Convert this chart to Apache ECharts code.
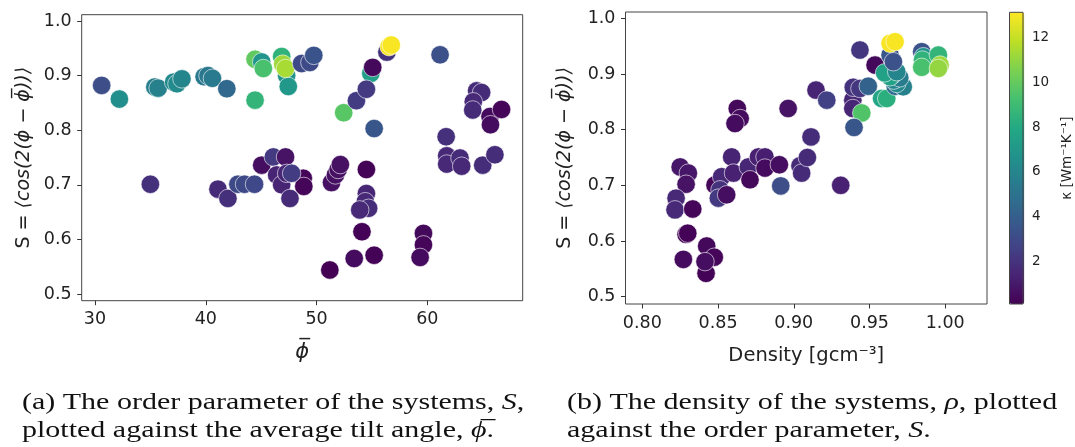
<!DOCTYPE html>
<html>
<head>
<meta charset="utf-8">
<script src="https://cdn.jsdelivr.net/npm/echarts@6/dist/echarts.min.js"></script>
<style>
html,body{margin:0;padding:0;background:#fff;}
#chart{width:1075px;height:447px;}
</style>
</head>
<body>
<div id="chart"></div>
<script>
// ---- Panel (a): average tilt angle vs order parameter S, colour = kappa ----
const phiA = [30.6,32.2,35.4,35.7,37.1,37.4,37.85,39.85,40.2,40.6,41.9,44.45,45.05,45.2,44.45,46.85,47.3,47.45,46.95,47.2,
  48.65,49.4,49.75,54.9,55.07,56.35,56.55,56.75,52.45,53.6,54.5,55.2,61.15,64.45,64.9,64.15,64.1,65.66,65.7,66.7,
  61.7,61.75,61.75,62.95,63.1,65.0,66.1,53.4,55.2,51.2,54.1,59.65,59.65,59.35,54.5,54.5,54.4,54.7,53.9,51.35,
  51.7,51.95,52.15,48.8,48.85,35.0,41.1,42.0,42.9,43.5,44.4,45.05,46.1,47.2,46.4,46.85,47.3,47.75,47.6];
const sA = [0.882,0.857,0.879,0.877,0.888,0.885,0.894,0.898,0.900,0.895,0.876,0.930,0.925,0.913,0.855,0.935,0.900,0.880,0.921,0.913,
  0.922,0.924,0.937,0.904,0.915,0.943,0.953,0.956,0.832,0.854,0.875,0.803,0.938,0.872,0.869,0.852,0.837,0.825,0.810,0.838,
  0.788,0.753,0.738,0.749,0.734,0.736,0.755,0.565,0.571,0.544,0.614,0.611,0.590,0.567,0.728,0.684,0.669,0.657,0.654,0.704,
  0.718,0.728,0.737,0.712,0.697,0.701,0.692,0.675,0.701,0.701,0.701,0.736,0.751,0.751,0.718,0.700,0.721,0.721,0.675];
const kappaA = [3.2,6.5,5.7,5.8,6.2,6.3,6.0,5.3,5.3,5.4,4.5,9.9,6.8,9.3,8.6,8.5,6.7,7.0,11.2,11.4,
  3.0,3.0,3.5,7.4,0.4,2.0,13.0,13.0,9.7,2.4,2.3,3.6,3.3,1.7,1.7,1.6,1.7,0.5,0.5,0.3,
  1.9,1.6,1.6,1.7,1.6,1.8,1.8,0.5,0.2,0.1,0.2,0.4,0.3,0.5,0.2,1.5,1.6,1.8,1.6,0.7,
  0.7,0.7,0.7,0.3,0.3,1.9,1.7,1.9,3.0,3.0,2.9,0.6,2.3,0.8,1.4,1.4,1.5,2.4,1.7];

// ---- Panel (b): density vs order parameter S, colour = kappa ----
const rhoB = [0.8289,0.830,0.8425,0.8475,0.8271,0.8421,0.8414,
  0.825,0.8304,0.8289,0.8223,0.8216,0.8333,0.848,0.8524,0.8513,0.8502,0.8557,0.859,0.8602,0.870,0.8711,0.8767,0.881,0.881,
  0.8905,0.8914,0.9041,0.9052,0.909,0.9114,0.931,
  0.8627,0.8646,0.8612,0.8963,0.9147,0.9218,0.939,0.939,0.9393,0.9437,0.9492,0.9449,0.9398,0.9437,0.9537,
  0.958,0.9614,0.967,0.971,0.9723,0.968,0.966,0.970,0.965,0.9636,0.960,0.968,0.9636,0.9658,0.9636,0.9669,
  0.9845,0.9856,0.985,0.9845,0.9955,0.9966,0.9955];
const sB = [0.612,0.614,0.591,0.571,0.567,0.542,0.563,
  0.733,0.722,0.702,0.677,0.656,0.6575,0.7006,0.7155,0.692,0.677,0.683,0.751,0.722,0.733,0.710,0.751,0.751,0.731,
  0.737,0.699,0.735,0.722,0.750,0.787,0.700,
  0.838,0.820,0.811,0.838,0.871,0.853,0.853,0.838,0.876,0.874,0.878,0.830,0.804,0.943,0.916,
  0.856,0.856,0.878,0.880,0.877,0.883,0.889,0.893,0.898,0.895,0.902,0.904,0.934,0.922,0.955,0.958,
  0.940,0.931,0.925,0.912,0.934,0.916,0.910];
const kappaB = [0.2,0.2,0.4,0.3,0.5,0.2,0.6,
  0.9,0.9,0.8,1.6,1.6,0.3,0.3,1.6,2.0,2.3,0.6,1.4,1.3,1.5,0.4,1.3,1.2,0.5,
  0.6,3.2,1.7,1.7,1.7,1.8,1.3,
  0.4,0.5,0.5,0.8,1.4,2.6,1.5,1.5,2.0,2.2,4.2,9.5,3.6,2.2,0.4,
  7.8,8.3,4.6,6.2,5.8,6.2,6.0,5.5,5.3,7.6,7.5,6.0,3.6,3.4,13.0,13.0,
  3.4,6.8,8.5,9.3,8.6,11.2,11.0];

// ---- ticks ----
const phiTicks = [30,40,50,60];
const sTicks = [0.5,0.6,0.7,0.8,0.9,1.0];
const rhoTicks = [0.80,0.85,0.90,0.95,1.00];
const kappaTicks = [2,4,6,8,10,12];

const viridis = ['#440154','#482475','#414487','#355f8d','#2a788e','#21918c','#22a884','#44bf70','#7ad151','#bddf26','#fde725'];
const KMIN = 0.115, KMAX = 13.11;

const FONT = 'DejaVu Sans';
const tickFont = {fontFamily: FONT, fontSize: 17.5, color: '#222'};
const frame = '#444';

function valueAxis(gridIndex, min, max, ticks, dec, extra) {
  return Object.assign({
    type: 'value', gridIndex, min, max,
    axisLine: {show: false},
    axisTick: {show: true, customValues: ticks, length: 4.5, lineStyle: {color: '#333', width: 1}},
    axisLabel: Object.assign({customValues: ticks, margin: 10, formatter: v => v.toFixed(dec)}, tickFont),
    splitLine: {show: false}
  }, extra || {});
}

const chart = echarts.init(document.getElementById('chart'), null, {renderer: 'canvas'});
const italic = {fontStyle: 'italic', fontFamily: FONT, fontSize: 19, color: '#222'};

const CAP = {fontFamily: 'Liberation Serif', fontSize: 24, fill: '#111', verticalAlign: 'middle'};
const capRich = {i: {fontStyle: 'italic', fontFamily: 'Liberation Serif', fontSize: 24, fill: '#111'}};
function caption(x, y, text) {
  return {type: 'text', x, y, scaleX: 1.25, style: Object.assign({text, rich: capRich}, CAP)};
}

const option = {
  animation: false,
  backgroundColor: '#fff',
  grid: [
    {left: 81.7, top: 14.7, width: 441, height: 286, show: true, borderColor: frame, borderWidth: 1, backgroundColor: 'transparent'},
    {left: 625.5, top: 12, width: 361.5, height: 292, show: true, borderColor: frame, borderWidth: 1, backgroundColor: 'transparent'},
    {left: 1009.5, top: 12.3, width: 14.8, height: 291.7, show: true, borderColor: frame, borderWidth: 1, backgroundColor: 'transparent', z: 10}
  ],
  xAxis: [
    valueAxis(0, 28.8, 68.61, phiTicks, 0, {
      name: '{m|ϕ\u0305}', nameLocation: 'middle', nameGap: 41,
      nameTextStyle: {rich: {m: {fontStyle: 'italic', fontFamily: FONT, fontSize: 21, color: '#222'}}}
    }),
    valueAxis(1, 0.7889, 1.0276, rhoTicks, 2, {
      name: 'Density [gcm⁻³]', nameLocation: 'middle', nameGap: 42,
      nameTextStyle: {fontFamily: FONT, fontSize: 19.5, color: '#222'}
    }),
    {type: 'value', gridIndex: 2, min: 0, max: 1, show: false}
  ],
  yAxis: [
    valueAxis(0, 0.4877, 1.0115, sTicks, 1, {
      name: 'S = {m|⟨cos(2(ϕ − ϕ\u0305))⟩}', nameLocation: 'middle', nameGap: 48,
      nameTextStyle: {fontFamily: FONT, fontSize: 19, color: '#222', rich: {m: italic}}
    }),
    valueAxis(1, 0.4869, 1.0113, sTicks, 1, {
      name: 'S = {m|⟨cos(2(ϕ − ϕ\u0305))⟩}', nameLocation: 'middle', nameGap: 51,
      nameTextStyle: {fontFamily: FONT, fontSize: 19, color: '#222', rich: {m: italic}}
    }),
    {
      type: 'value', gridIndex: 2, min: KMIN, max: KMAX, position: 'right',
      axisLine: {show: false},
      axisTick: {show: true, customValues: kappaTicks, length: 4, lineStyle: {color: '#333'}},
      axisLabel: {customValues: kappaTicks, margin: 9, fontFamily: FONT, fontSize: 13.5, color: '#222'},
      splitLine: {show: false},
      name: 'κ [Wm⁻¹K⁻¹]', nameLocation: 'middle', nameGap: 37, nameRotate: 90,
      nameTextStyle: {fontFamily: FONT, fontSize: 13.5, color: '#222'}
    }
  ],
  visualMap: {
    type: 'continuous', min: KMIN, max: KMAX, dimension: 2, seriesIndex: [0, 1],
    inRange: {color: viridis},
    left: 1009.5, top: 12.3, itemWidth: 14.8, itemHeight: 291.7, padding: 0,
    calculable: false, showLabel: false, text: null, hoverLink: false, realtime: false
  },
  series: [
    {
      type: 'scatter', xAxisIndex: 0, yAxisIndex: 0, symbolSize: 18.5,
      itemStyle: {borderColor: 'rgba(255,255,255,0.85)', borderWidth: 0.7, opacity: 1},
      emphasis: {disabled: true},
      data: phiA.map((p, i) => [p, sA[i], kappaA[i]])
    },
    {
      type: 'scatter', xAxisIndex: 1, yAxisIndex: 1, symbolSize: 18.5,
      itemStyle: {borderColor: 'rgba(255,255,255,0.85)', borderWidth: 0.7, opacity: 1},
      emphasis: {disabled: true},
      data: rhoB.map((r, i) => [r, sB[i], kappaB[i]])
    }
  ],
  graphic: [
    caption(22, 403, '(a) The order parameter of the systems, {i|S},'),
    caption(22, 431, 'plotted against the average tilt angle, {i|ϕ\u0305}.'),
    caption(567, 403, '(b) The density of the systems, {i|ρ}, plotted'),
    caption(567, 431, 'against the order parameter, {i|S}.')
  ]
};
chart.setOption(option);
</script>
</body>
</html>
